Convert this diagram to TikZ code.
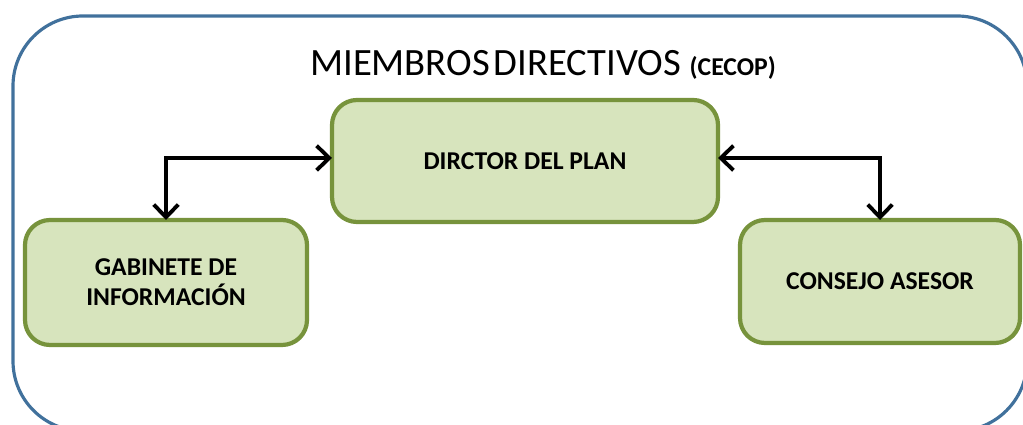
\documentclass[tikz,border=0pt]{standalone}
\usepackage{fontspec}
\setmainfont{Carlito}
\usetikzlibrary{arrows.meta, positioning}

\definecolor{boxfill}{HTML}{D7E4BD}
\definecolor{boxline}{HTML}{77933C}
\definecolor{frameblue}{HTML}{41719C}

\begin{document}
\begin{tikzpicture}[
    cargo/.style={draw=boxline, line width=1.2pt, fill=boxfill, rounded corners=0.25cm,
                  align=center, font=\fontsize{7.3}{8.6}\selectfont\bfseries, outer sep=0pt},
    enlace/.style={line width=1.1pt, {Straight Barb[length=3.6pt,width=7pt,line width=1.1pt]}-{Straight Barb[length=3.6pt,width=7pt,line width=1.1pt]}}
  ]
    \useasboundingbox (0,0) rectangle (10.23,4.25);
    \draw[frameblue, line width=0.9pt, rounded corners=0.7cm] (0.13,4.09) rectangle (10.27,-0.06);
    \node (titulo) at (5.43,3.6) {\fontsize{11}{13}\selectfont MIEMBROS\hspace{0.1em}DIRECTIVOS {\fontsize{7.3}{8}\selectfont\bfseries(CECOP)}};
    \node[cargo, minimum width=3.86cm, minimum height=1.22cm] (director) at (5.25,2.64) {DIRCTOR DEL PLAN};
    \node[cargo, minimum width=2.82cm, minimum height=1.25cm] (gabinete) at (1.66,1.425) {GABINETE DE\\INFORMACIÓN};
    \node[cargo, minimum width=2.80cm, minimum height=1.23cm] (consejo) at (8.80,1.435) {CONSEJO ASESOR};
    \draw[enlace] ([yshift=0.03cm]director.west) -| (gabinete.north);
    \draw[enlace] ([yshift=0.03cm]director.east) -| (consejo.north);
\end{tikzpicture}
\end{document}
